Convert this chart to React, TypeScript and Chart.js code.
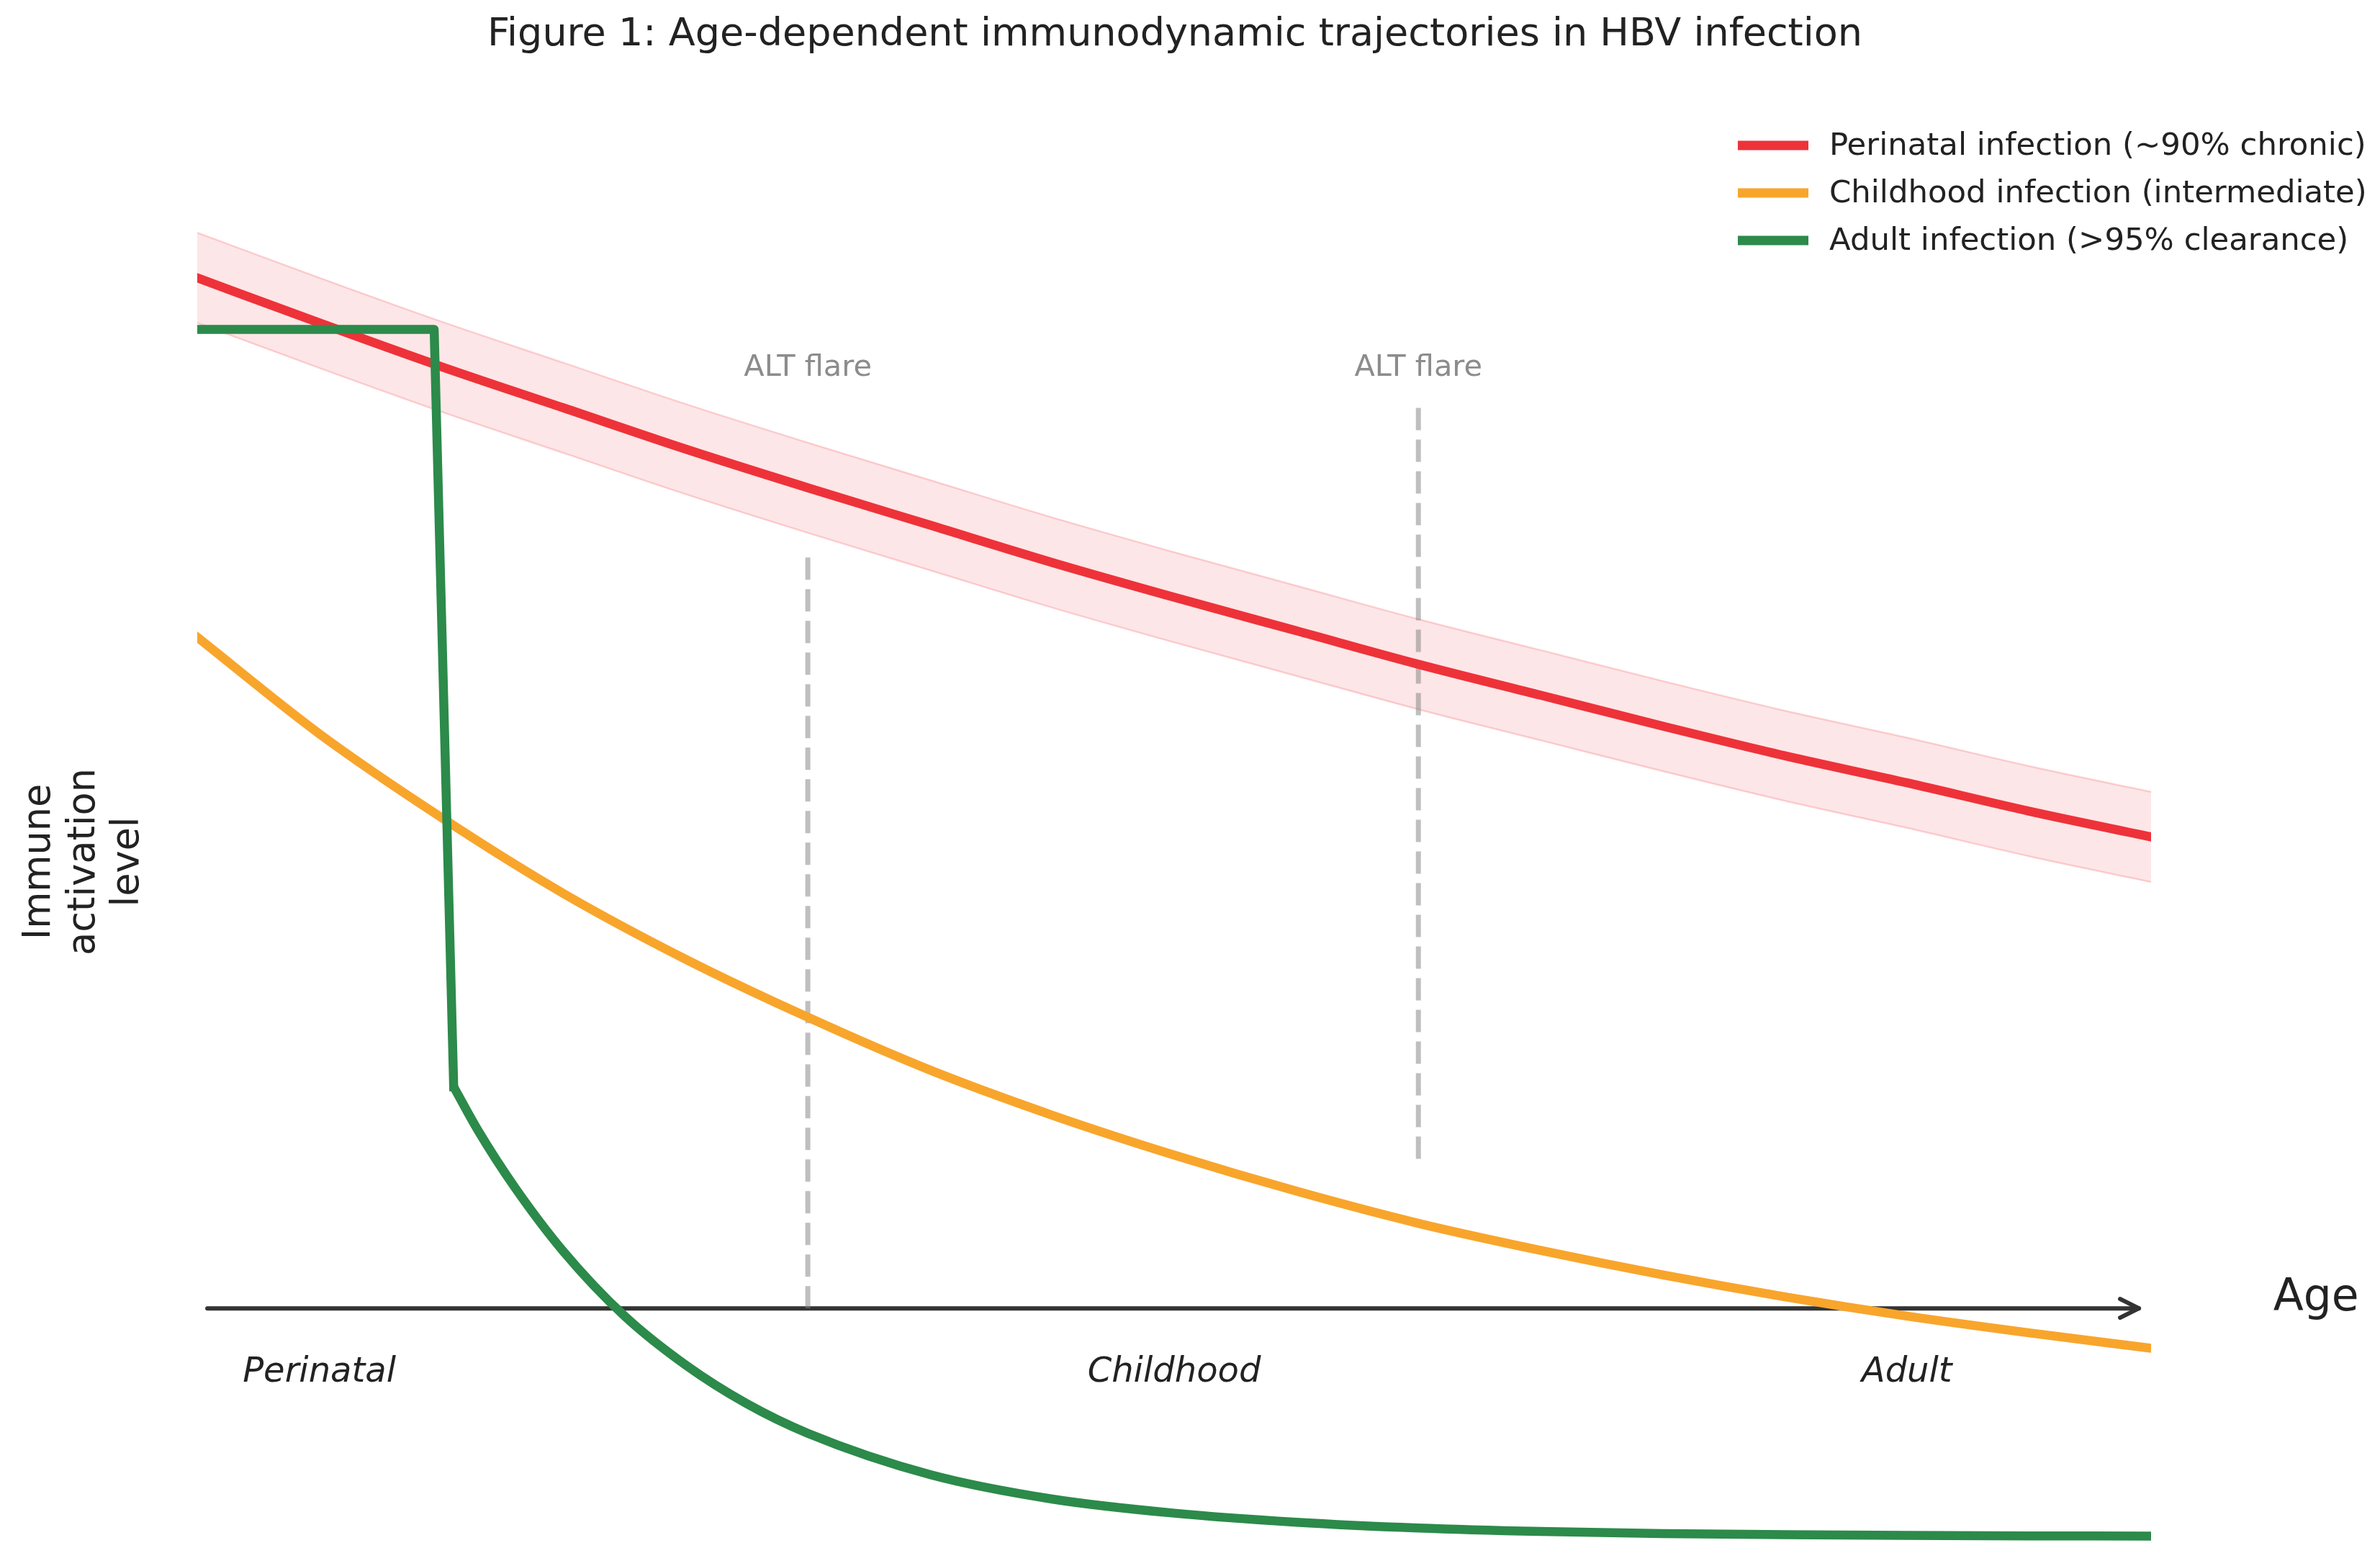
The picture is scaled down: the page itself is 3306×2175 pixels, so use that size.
import { useEffect, useRef } from 'react';
import { Chart, registerables } from 'chart.js';

Chart.register(...registerables);

// Age axis (years) shared by the perinatal and childhood trajectories
const AGE_YEARS = [0, 1, 2, 3, 4, 5, 6, 7, 8, 9, 10, 11, 12, 13, 14, 15, 16];

// Perinatal infection: mean trajectory and its uncertainty band
const PERINATAL = [1.0, 0.965, 0.931, 0.899, 0.867, 0.837, 0.808, 0.779, 0.752, 0.726, 0.7, 0.676, 0.652, 0.629, 0.608, 0.586, 0.566];
const PERINATAL_UPPER = [1.035, 1.0, 0.966, 0.934, 0.902, 0.872, 0.843, 0.814, 0.787, 0.761, 0.735, 0.711, 0.687, 0.664, 0.643, 0.621, 0.601];
const PERINATAL_LOWER = [0.965, 0.93, 0.896, 0.864, 0.832, 0.802, 0.773, 0.744, 0.717, 0.691, 0.665, 0.641, 0.617, 0.594, 0.573, 0.551, 0.531];

// Childhood infection
const CHILDHOOD = [0.721, 0.646, 0.581, 0.522, 0.471, 0.426, 0.385, 0.35, 0.319, 0.291, 0.266, 0.245, 0.226, 0.209, 0.194, 0.181, 0.169];

// Adult infection: plateau, sharp clearance at ~2 years, then slow decay
const ADULT_AGES = [0, 1, 1.94, 2.1, 2.3, 2.6, 3, 3.5, 4, 4.5, 5, 6, 7, 8, 9, 10, 11, 12, 13, 14, 15, 16];
const ADULT = [0.96, 0.96, 0.96, 0.372, 0.338, 0.294, 0.244, 0.194, 0.156, 0.126, 0.103, 0.071, 0.052, 0.041, 0.034, 0.0295, 0.0268, 0.0252, 0.0243, 0.0237, 0.0234, 0.0232];
const ADULT_DROP_INDEX = 3; // first point after the clearance drop

// ALT flare markers: age and vertical extent
const FLARE_AGES = [5, 10];
const FLARE_BOTTOM = [0.2, 0.316];
const FLARE_TOP = [0.784, 0.901];
const FLARE_LABEL = 'ALT flare';
const FLARE_LABEL_LEVEL = 0.924;

// Age axis arrow and stage labels
const AXIS_LEVEL = 0.2;
const AXIS_START = 0.083;
const AXIS_END = 15.9;
const STAGE_LABELS = ['Perinatal', 'Childhood', 'Adult'];
const STAGE_AGES = [1, 8, 14];
const STAGE_LEVEL = 0.15;
const AGE_LABEL = 'Age';
const AGE_LABEL_X = 17;

const TITLE = 'Figure 1: Age-dependent immunodynamic trajectories in HBV infection';
const Y_LABEL = ['Immune', 'activation', 'level'];
const SERIES_LABELS = [
  'Perinatal infection (~90% chronic)',
  'Childhood infection (intermediate)',
  'Adult infection (>95% clearance)',
];

const RED = '#EE3239';
const ORANGE = '#F8A52C';
const GREEN = '#2C8A4A';
const BAND = 'rgba(238, 50, 57, 0.12)';
const BAND_EDGE = 'rgba(238, 50, 57, 0.2)';
const FLARE = 'rgba(128, 128, 128, 0.5)';
const TEXT = '#222222';
const FONT = "'DejaVu Sans', 'Liberation Sans', sans-serif";

const W = 3306;
const H = 2175;

const pts = (xs: number[], ys: number[]) => xs.map((x, i) => ({ x, y: ys[i] }));

const decorations = {
  id: 'decorations',
  beforeDatasetsDraw(chart: any) {
    const { ctx, scales } = chart;
    const xs = scales.x;
    const ys = scales.y;
    const y = ys.getPixelForValue(AXIS_LEVEL);
    const x0 = xs.getPixelForValue(AXIS_START);
    const x1 = xs.getPixelForValue(AXIS_END);
    ctx.save();
    ctx.strokeStyle = '#333333';
    ctx.lineWidth = 6;
    ctx.lineCap = 'round';
    ctx.lineJoin = 'round';
    ctx.beginPath();
    ctx.moveTo(x0, y);
    ctx.lineTo(x1, y);
    ctx.stroke();
    ctx.beginPath();
    ctx.moveTo(x1 - 26, y - 13);
    ctx.lineTo(x1, y);
    ctx.lineTo(x1 - 26, y + 13);
    ctx.stroke();
    ctx.restore();
  },
  afterDraw(chart: any) {
    const { ctx, scales } = chart;
    const xs = scales.x;
    const ys = scales.y;
    ctx.save();

    // title
    ctx.fillStyle = TEXT;
    ctx.font = `54px ${FONT}`;
    ctx.textAlign = 'center';
    ctx.textBaseline = 'alphabetic';
    ctx.fillText(TITLE, 1632, 63);

    // ALT flare labels
    ctx.fillStyle = '#8C8C8C';
    ctx.font = `41.5px ${FONT}`;
    FLARE_AGES.forEach((a) => {
      ctx.fillText(FLARE_LABEL, xs.getPixelForValue(a), ys.getPixelForValue(FLARE_LABEL_LEVEL));
    });

    // stage labels
    ctx.fillStyle = TEXT;
    ctx.font = `italic 48px ${FONT}`;
    ctx.textBaseline = 'middle';
    STAGE_LABELS.forEach((s, i) => {
      ctx.fillText(s, xs.getPixelForValue(STAGE_AGES[i]), ys.getPixelForValue(STAGE_LEVEL));
    });

    // axis name
    ctx.font = `61.5px ${FONT}`;
    ctx.textAlign = 'left';
    ctx.textBaseline = 'alphabetic';
    ctx.fillText(AGE_LABEL, xs.getPixelForValue(AGE_LABEL_X), ys.getPixelForValue(AXIS_LEVEL) + 3);

    // y label, rotated, three lines
    ctx.save();
    ctx.translate(0, 1197);
    ctx.rotate(-Math.PI / 2);
    ctx.font = `52.5px ${FONT}`;
    ctx.textAlign = 'center';
    Y_LABEL.forEach((line, i) => {
      ctx.fillText(line, 0, 69 + i * 61.5);
    });
    ctx.restore();

    // legend
    const colors = [RED, ORANGE, GREEN];
    ctx.font = `43.4px ${FONT}`;
    ctx.textAlign = 'left';
    ctx.textBaseline = 'middle';
    SERIES_LABELS.forEach((label, i) => {
      const ry = 202 + i * 66;
      ctx.strokeStyle = colors[i];
      ctx.lineWidth = 13;
      ctx.lineCap = 'butt';
      ctx.beginPath();
      ctx.moveTo(2414, ry);
      ctx.lineTo(2512, ry);
      ctx.stroke();
      ctx.fillStyle = TEXT;
      ctx.fillText(label, 2541, ry + 2);
    });

    ctx.restore();
  },
};

export default function App() {
  const ref = useRef<HTMLCanvasElement | null>(null);

  useEffect(() => {
    if (!ref.current) return;
    const line = {
      pointRadius: 0,
      borderWidth: 12.5,
      borderCapStyle: 'square' as const,
      borderJoinStyle: 'round' as const,
      cubicInterpolationMode: 'monotone' as const,
      fill: false,
    };
    const adult = pts(ADULT_AGES, ADULT);
    const chart = new Chart(ref.current, {
      type: 'line',
      data: {
        datasets: [
          // plateau and clearance drop: straight segments
          {
            ...line, label: SERIES_LABELS[2], data: adult.slice(0, ADULT_DROP_INDEX + 1),
            borderColor: GREEN, cubicInterpolationMode: 'default', tension: 0,
          },
          // post-clearance decay: smooth
          {
            ...line, label: SERIES_LABELS[2], data: adult.slice(ADULT_DROP_INDEX),
            borderColor: GREEN, borderCapStyle: 'round',
          },
          { ...line, label: SERIES_LABELS[1], data: pts(AGE_YEARS, CHILDHOOD), borderColor: ORANGE },
          { ...line, label: SERIES_LABELS[0], data: pts(AGE_YEARS, PERINATAL), borderColor: RED },
          {
            label: FLARE_LABEL,
            data: [{ x: FLARE_AGES[0], y: FLARE_BOTTOM[0] }, { x: FLARE_AGES[0], y: FLARE_TOP[0] }],
            borderColor: FLARE, borderWidth: 7, borderDash: [31, 13], pointRadius: 0, fill: false,
          },
          {
            label: FLARE_LABEL,
            data: [{ x: FLARE_AGES[1], y: FLARE_BOTTOM[1] }, { x: FLARE_AGES[1], y: FLARE_TOP[1] }],
            borderColor: FLARE, borderWidth: 7, borderDash: [31, 13], pointRadius: 0, fill: false,
          },
          {
            label: 'upper', data: pts(AGE_YEARS, PERINATAL_UPPER), borderColor: BAND_EDGE, borderWidth: 2.5,
            backgroundColor: BAND, pointRadius: 0, cubicInterpolationMode: 'monotone', fill: '+1',
          },
          {
            label: 'lower', data: pts(AGE_YEARS, PERINATAL_LOWER), borderColor: BAND_EDGE, borderWidth: 2.5,
            pointRadius: 0, cubicInterpolationMode: 'monotone', fill: false,
          },
        ],
      },
      options: {
        animation: false,
        responsive: false,
        devicePixelRatio: 1,
        layout: { padding: { left: 274, right: 318, top: 28, bottom: 0 } },
        scales: {
          x: { type: 'linear', min: 0, max: 16, display: false },
          y: { type: 'linear', min: 0, max: 1.2, display: false },
        },
        plugins: {
          legend: { display: false },
          title: { display: false },
          tooltip: { enabled: false },
        },
      },
      plugins: [decorations],
    });
    return () => chart.destroy();
  }, []);

  return (
    <div style={{ position: 'absolute', left: 0, top: 0, width: W, height: H, background: '#ffffff' }}>
      <canvas ref={ref} width={W} height={H} style={{ width: W, height: H, display: 'block' }} />
    </div>
  );
}
